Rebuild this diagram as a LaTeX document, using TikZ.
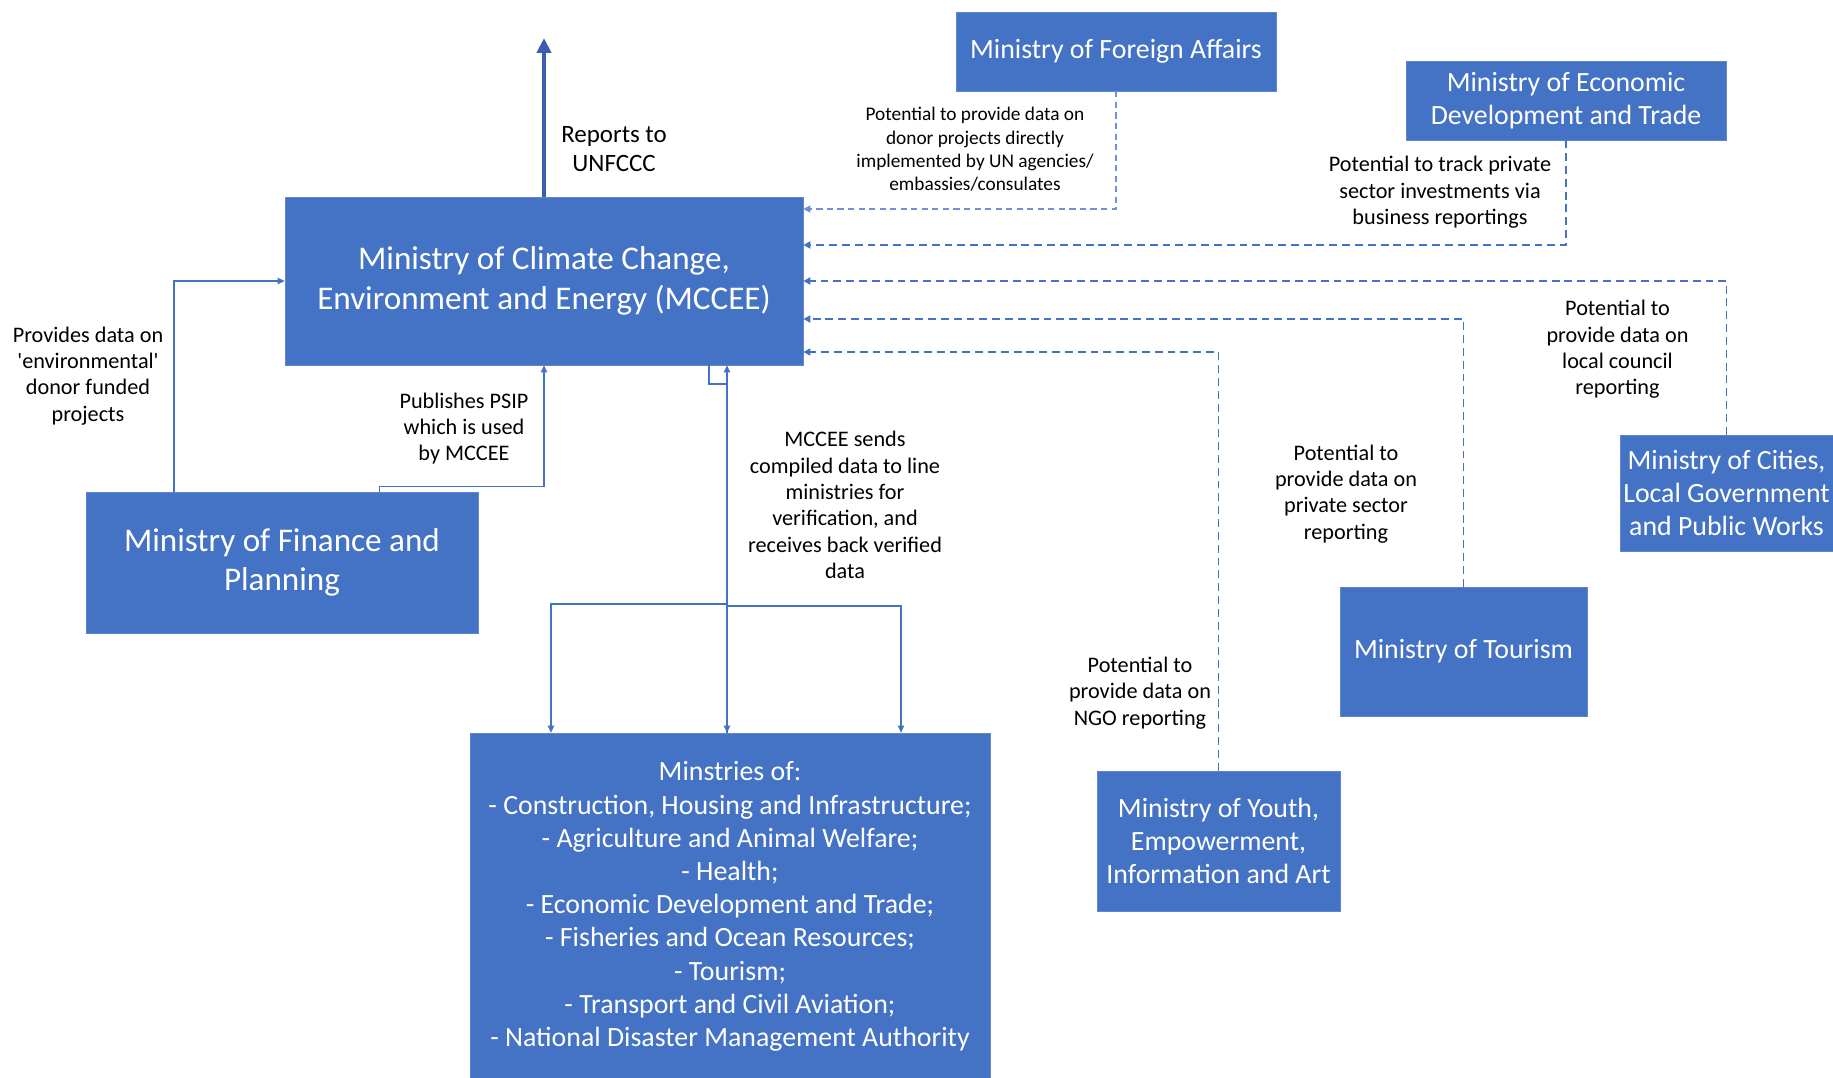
\documentclass[tikz,border=0pt]{standalone}
\usepackage{fontspec}
\setmainfont{Carlito}
\usetikzlibrary{arrows.meta}

\definecolor{boxblue}{HTML}{4472C4}
\definecolor{reportblue}{HTML}{3C5EAE}
\definecolor{lightdash}{HTML}{6F91D3}

\tikzset{
	box/.style={fill=boxblue, draw=boxblue!85!white, text=white, align=center, inner sep=0pt},
	bigbox/.style={box, font=\fontsize{18.85}{22.5}\selectfont},
	midbox/.style={box, font=\fontsize{15.85}{18.9}\selectfont},
	note/.style={align=center, inner sep=0pt, font=\fontsize{12.65}{15}\selectfont},
	link/.style={draw=boxblue, line width=0.75pt, -{Triangle[length=4pt,width=3.6pt]}},
	maybe/.style={draw=boxblue, line width=1pt, dash pattern=on 4.5pt off 2.8pt, -{Triangle[length=4pt,width=4pt]}},
	maybethin/.style={maybe, draw=lightdash, line width=0.7pt, dash pattern=on 3.5pt off 2.5pt}
}

\begin{document}
\begin{tikzpicture}[x=0.02cm, y=-0.02cm]
	\useasboundingbox (0,0) rectangle (1833,1078);

	\node[bigbox, minimum width=10.36cm, minimum height=3.36cm] (mccee) at (544,281) {Ministry of Climate Change,\\Environment and Energy (MCCEE)};
	\node[bigbox, minimum width=7.84cm, minimum height=2.82cm] (finance) at (282,562.5) {Ministry of Finance and\\Planning};
	\node[midbox, minimum width=6.4cm, minimum height=1.58cm] (foreign) at (1116,51.5) {Ministry of Foreign Affairs};
	\node[midbox, minimum width=6.4cm, minimum height=1.58cm] (econ) at (1566,100.5) {Ministry of Economic\\Development and Trade};
	\node[midbox, minimum width=4.26cm, minimum height=2.32cm] (cities) at (1726.5,493) {Ministry of Cities,\\Local Government\\and Public Works};
	\node[midbox, minimum width=4.94cm, minimum height=2.58cm] (tourism) at (1463.5,651.5) {Ministry of Tourism};
	\node[midbox, minimum width=4.86cm, minimum height=2.8cm] (youth) at (1218.5,841) {Ministry of Youth,\\Empowerment,\\Information and Art};
	\node[midbox, minimum width=10.4cm, minimum height=6.94cm] (lines) at (730,906.5) {Minstries of:\\- Construction, Housing and Infrastructure;\\- Agriculture and Animal Welfare;\\- Health;\\- Economic Development and Trade;\\- Fisheries and Ocean Resources;\\- Tourism;\\- Transport and Civil Aviation;\\- National Disaster Management Authority};

	\coordinate (unfccc) at (544,38);
	\draw[draw=reportblue, line width=2.2pt, -{Triangle[length=8.5pt,width=8pt]}] (mccee.north) -- (unfccc);
	\node[note, font=\fontsize{14.2}{16.5}\selectfont] (reports) at (614,149) {Reports to\\UNFCCC};

	\draw[link] (finance.north -| 174,0) |- (mccee.west);
	\node[note] (provides) at (88,376) {Provides data on\\\textquotesingle environmental\textquotesingle\\donor funded\\projects};

	\draw[link] (finance.north -| 379.5,0) -- ++(0,-5) -| (mccee.south);
	\node[note] (psip) at (464,428.5) {Publishes PSIP\\which is used\\by MCCEE};

	\coordinate (loop) at (727,384);
	\draw[link] (mccee.south -| 709,0) |- (loop) -- (lines.north -| 727,0);
	\draw[link] (loop) |- (551,604) -- (lines.north -| 551,0);
	\draw[link] (loop) |- (901,606) -- (lines.north -| 901,0);
	\draw[link] (lines.north -| 727,0) -- (mccee.south -| 727,0);
	\node[note] (sends) at (845,505) {MCCEE sends\\compiled data to line\\ministries for\\verification, and\\receives back verified\\data};

	\draw[maybethin] (foreign.south) |- (mccee.east |- 0,209);
	\node[note, font=\fontsize{11}{13.3}\selectfont] (donor) at (975,149.5) {Potential to provide data on\\donor projects directly\\implemented by UN agencies/\\embassies/consulates};

	\draw[maybe] (econ.south) |- (mccee.east |- 0,245);
	\node[note] (track) at (1440,192.5) {Potential to track private\\sector investments via\\business reportings};

	\draw[maybe] (cities.north) |- (mccee.east |- 0,281);
	\node[note] (council) at (1617.5,349.5) {Potential to\\provide data on\\local council\\reporting};

	\draw[maybe] (tourism.north) |- (mccee.east |- 0,319);
	\node[note] (private) at (1346,494) {Potential to\\provide data on\\private sector\\reporting};

	\draw[maybe] (youth.north) |- (mccee.east |- 0,352);
	\node[note] (ngo) at (1140,693) {Potential to\\provide data on\\NGO reporting};

\end{tikzpicture}
\end{document}
